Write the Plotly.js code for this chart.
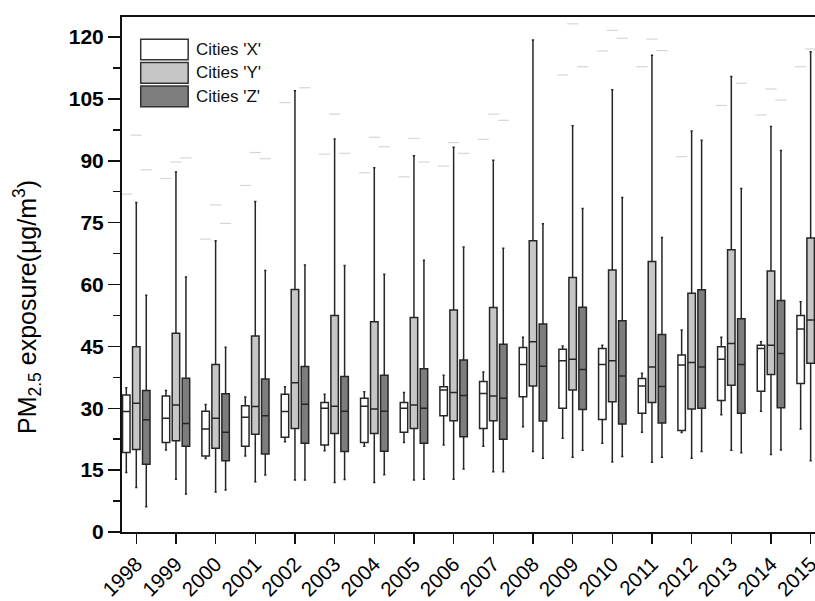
<!DOCTYPE html>
<html>
<head>
<meta charset="utf-8">
<script src="https://cdn.plot.ly/plotly-3.0.1.min.js"></script>
<style>html,body{margin:0;padding:0;background:#fff;overflow:hidden}#chart{width:815px;height:601px}</style>
</head>
<body>
<div id="chart"></div>
<script>
const years = ['1998','1999','2000','2001','2002','2003','2004','2005','2006','2007','2008','2009','2010','2011','2012','2013','2014','2015'];
const seriesNames = ["Cities 'X'", "Cities 'Y'", "Cities 'Z'"];

// Cities 'X'
const xLow = [14.4,19.9,17.8,18.4,21.9,19.7,20.8,21.7,21.1,20.8,25.5,22.7,21.5,24.2,24.1,28.4,29.3,25.0];
const xQ1  = [19.3,21.7,18.4,20.8,23.0,21.1,21.7,24.2,28.2,25.1,32.8,30.0,27.3,28.8,24.6,31.9,34.1,36.0];
const xMed = [29.2,27.6,25.0,27.8,29.2,30.0,30.5,30.0,34.4,33.6,40.6,41.5,40.6,35.4,40.5,41.9,44.5,49.2];
const xQ3  = [33.2,33.0,29.3,30.6,33.4,31.4,32.4,31.4,35.2,36.5,44.7,44.3,44.5,37.2,42.9,44.9,45.3,52.5];
const xHigh= [35.0,34.3,30.9,32.7,35.2,33.4,34.0,33.8,38.0,38.8,47.2,45.1,45.3,38.5,49.0,47.2,46.1,55.8];
const xMax = [81.9,85.7,71.0,84.0,104.1,91.6,87.1,86.1,88.7,95.2,null,110.8,116.6,112.8,91.0,103.4,101.1,112.8];

// Cities 'Y'
const yLow = [10.8,12.8,9.7,12.2,12.6,12.0,12.0,12.6,12.8,14.6,19.5,18.1,17.0,16.9,17.9,19.8,18.8,17.3];
const yQ1  = [20.0,22.1,20.3,23.7,25.1,23.9,23.9,25.1,27.0,27.0,35.4,34.4,31.6,31.4,29.8,35.6,38.2,40.9];
const yMed = [31.2,30.8,27.6,30.4,36.2,30.5,29.8,30.8,33.8,33.0,46.1,41.9,41.5,40.0,41.1,45.7,45.3,51.4];
const yQ3  = [44.9,48.2,40.6,47.5,58.8,52.5,51.0,52.0,53.8,54.4,70.6,61.7,63.5,65.6,57.9,68.4,63.3,71.3];
const yHigh= [79.9,87.3,70.6,80.1,107.0,95.3,88.3,91.2,93.3,90.1,119.3,98.5,107.2,115.6,97.2,110.4,98.3,116.4];
const yMax = [96.2,89.7,79.3,92.0,null,101.3,95.7,95.4,94.4,101.3,null,123.2,121.6,119.5,null,null,107.4,117.1];

// Cities 'Z' (2015 box lies outside the visible frame)
const zYears = years.slice(0, 17);
const zLow = [6.1,9.2,10.2,13.8,12.6,12.7,13.9,12.8,15.3,14.6,17.9,19.8,18.3,18.1,19.5,19.2,19.9];
const zQ1  = [16.4,20.8,17.3,18.9,21.5,19.5,19.6,21.5,23.1,22.5,26.9,29.7,26.2,26.4,30.0,28.8,30.1];
const zMed = [27.2,26.3,24.2,28.2,31.0,29.3,29.3,30.0,33.1,32.4,40.2,39.4,37.8,35.3,40.0,40.6,43.3];
const zQ3  = [34.3,37.3,33.5,37.1,40.1,37.7,38.0,39.6,41.7,45.5,50.4,54.5,51.2,47.9,58.7,51.7,56.1];
const zHigh= [57.4,61.8,44.8,63.4,64.7,64.6,62.5,65.9,69.1,68.8,74.7,78.4,81.1,71.4,95.0,83.3,92.5];
const zMax = [87.8,90.7,74.8,90.5,107.7,91.8,93.4,89.7,91.8,99.8,null,112.8,119.7,116.7,null,108.8,104.7];

const yTickVals = [0,15,30,45,60,75,90,105,120];
const yTitle = 'PM<sub>2.5</sub> exposure(μg/m<sup>3</sup>)';

const fills = ['#ffffff', '#c6c6c6', '#7d7d7d'];
const edge = '#262626';
const font = 'Arial, "Liberation Sans", sans-serif';

function boxTrace(name, xs, lo, q1, med, q3, hi, fill) {
  return {
    type: 'box', name: name, x: xs,
    lowerfence: lo, q1: q1, median: med, q3: q3, upperfence: hi,
    fillcolor: fill, line: {color: edge, width: 1.5},
    whiskerwidth: 0.3, boxpoints: false, showlegend: false, hoverinfo: 'skip'
  };
}
function dashTrace(name, xs, vals) {
  return {
    type: 'scatter', mode: 'markers', name: name + ' max', x: xs, y: vals,
    marker: {symbol: 'line-ew', size: 8, line: {color: '#d6d6d6', width: 1.2}},
    showlegend: false, hoverinfo: 'skip', cliponaxis: true
  };
}

const data = [
  boxTrace(seriesNames[0], years, xLow, xQ1, xMed, xQ3, xHigh, fills[0]),
  boxTrace(seriesNames[1], years, yLow, yQ1, yMed, yQ3, yHigh, fills[1]),
  boxTrace(seriesNames[2], zYears, zLow, zQ1, zMed, zQ3, zHigh, fills[2]),
  dashTrace(seriesNames[0], years, xMax),
  dashTrace(seriesNames[1], years, yMax),
  dashTrace(seriesNames[2], zYears, zMax)
];

// custom legend (large swatches like the reference)
const shapes = [], annotations = [];
const legTop = 0.957, legH = 0.0402, legStep = 0.0455;
seriesNames.forEach((n, i) => {
  const y1 = legTop - i * legStep, y0 = y1 - legH;
  shapes.push({type: 'rect', xref: 'paper', yref: 'paper', x0: 0.027, x1: 0.0955, y0: y0, y1: y1,
    fillcolor: fills[i], line: {color: '#333', width: 1.5}});
  annotations.push({xref: 'paper', yref: 'paper', x: 0.104, y: (y0 + y1) / 2, xanchor: 'left', yanchor: 'middle',
    text: n, showarrow: false, font: {family: font, size: 17, color: '#111'}});
});
// y-axis title, placed like the reference (slightly below the plot centre)
annotations.push({xref: 'paper', yref: 'paper', x: -0.137, y: 0.437, xanchor: 'center', yanchor: 'middle',
  textangle: -90, text: yTitle, showarrow: false, font: {family: font, size: 25, color: '#000'}});

const layout = {
  width: 815, height: 601,
  margin: {l: 122, r: 0, t: 17, b: 69},
  paper_bgcolor: '#fff', plot_bgcolor: '#fff',
  boxmode: 'group', boxgap: 0.245, boxgroupgap: 0.25,
  scattermode: 'group', scattergap: 0.245,
  showlegend: false,
  font: {family: font, color: '#000'},
  xaxis: {
    type: 'category', range: [-0.36, 17.11],
    showline: true, linecolor: '#111', linewidth: 2, mirror: true,
    ticks: 'outside', ticklen: 10, tickwidth: 1.5, tickcolor: '#111',
    tickangle: -45, tickfont: {family: font, size: 20.5, color: '#000'},
    showgrid: false, zeroline: false
  },
  yaxis: {
    range: [0, 124.85], tickvals: yTickVals,
    showline: true, linecolor: '#111', linewidth: 2,
    ticks: 'outside', ticklen: 12, tickwidth: 1.5, tickcolor: '#111',
    minor: {dtick: 7.5, ticks: 'outside', ticklen: 7, tickwidth: 1.5, tickcolor: '#111', showgrid: false},
    tickfont: {family: font, size: 21, weight: 'bold', color: '#000'},
    showgrid: false, zeroline: false
  },
  shapes: shapes,
  annotations: annotations
};

Plotly.newPlot('chart', data, layout, {displayModeBar: false, staticPlot: true});
</script>
</body>
</html>
